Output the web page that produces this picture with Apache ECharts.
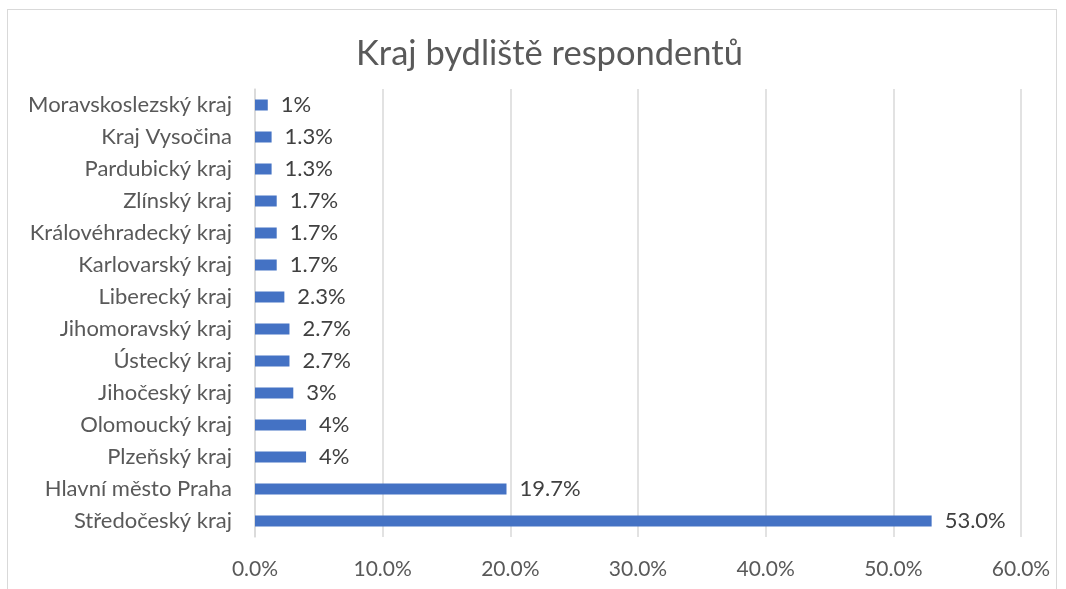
<!DOCTYPE html>
<html><head><meta charset="utf-8">
<script src="https://cdn.jsdelivr.net/npm/echarts@6/dist/echarts.min.js"></script>
<style>
html,body{margin:0;padding:0;background:#fff;}
#frame{position:absolute;left:7px;top:9px;width:1050px;height:590px;border:1px solid #d9d9d9;box-sizing:border-box;}
#c{position:absolute;left:0;top:0;width:1066px;height:589px;}
</style></head>
<body><div id="frame"></div><div id="c"></div>
<script>
var categories = ["Středočeský kraj","Hlavní město Praha","Plzeňský kraj","Olomoucký kraj","Jihočeský kraj","Ústecký kraj","Jihomoravský kraj","Liberecký kraj","Karlovarský kraj","Královéhradecký kraj","Zlínský kraj","Pardubický kraj","Kraj Vysočina","Moravskoslezský kraj"];
var values = [53.0,19.7,4,4,3,2.7,2.7,2.3,1.7,1.7,1.7,1.3,1.3,1];
var valueLabels = ["53.0%","19.7%","4%","4%","3%","2.7%","2.7%","2.3%","1.7%","1.7%","1.7%","1.3%","1.3%","1%"];
var tickLabels = ["0.0%","10.0%","20.0%","30.0%","40.0%","50.0%","60.0%"];
var title = "Kraj bydliště respondentů";

var chart = echarts.init(document.getElementById('c'), null, {renderer:'canvas'});
var font = 'Lato, "Noto Sans", sans-serif';
chart.setOption({
  animation:false,
  title:{text:title,left:351,top:31,textStyle:{fontFamily:font,fontSize:34.5,fontWeight:'normal',color:'#595959'}},
  grid:{left:255,right:45,top:89,bottom:52,containLabel:false},
  xAxis:{type:'value',min:0,max:60,interval:10,
    axisLine:{show:false},axisTick:{show:false},
    splitLine:{lineStyle:{color:'#d9d9d9',width:1.5}},
    axisLabel:{margin:22,fontFamily:font,fontSize:21,color:'#595959',
      formatter:function(v){return tickLabels[Math.round(v/10)];}}},
  yAxis:{type:'category',data:categories,
    axisLine:{show:true,lineStyle:{color:'#d9d9d9',width:1.5}},axisTick:{show:false},
    axisLabel:{margin:23,fontFamily:font,fontSize:22,color:'#595959'}},
  series:[{type:'bar',data:values,barWidth:11,
    itemStyle:{color:'#4472C4'},
    label:{show:true,position:'right',distance:13,fontFamily:font,fontSize:22,color:'#404040',
      formatter:function(p){return valueLabels[p.dataIndex];}}}]
});
</script></body></html>
